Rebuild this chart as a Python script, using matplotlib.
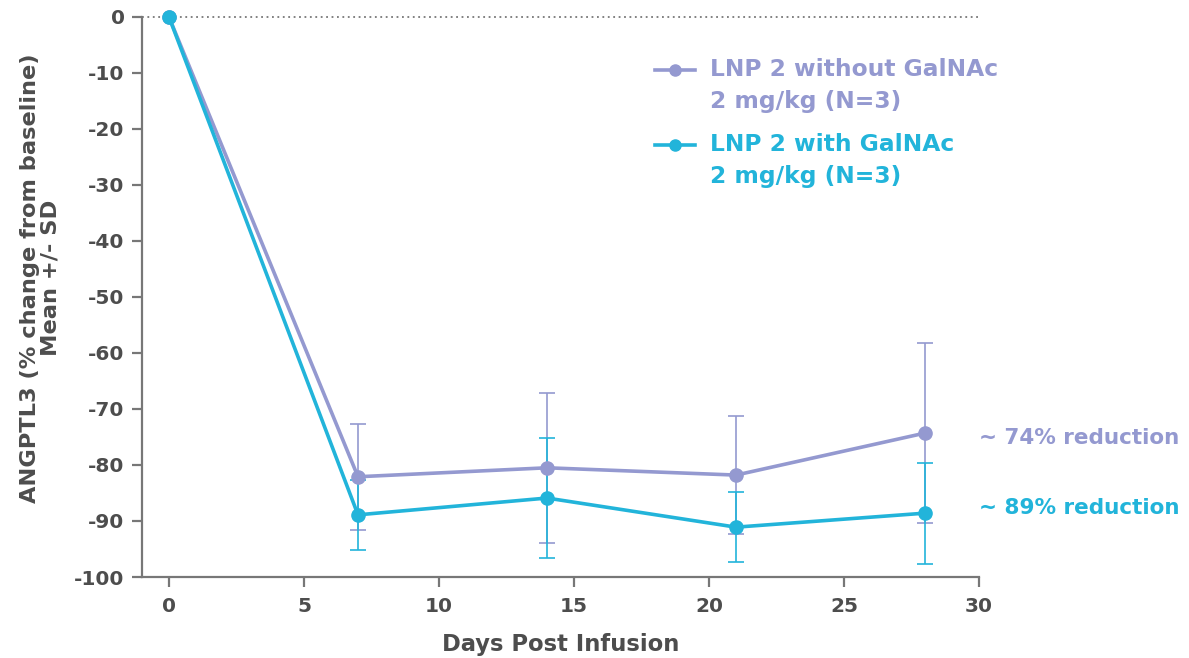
import matplotlib
matplotlib.use('Agg')
import matplotlib.pyplot as plt
from matplotlib.lines import Line2D
import numpy as np

plt.rcParams['font.family'] = ['DejaVu Sans']
plt.rcParams['font.weight'] = 'bold'
plt.rcParams['axes.unicode_minus'] = False

# data
days = [0, 7, 14, 21, 28]
without_mean = [0, -82.1, -80.5, -81.8, -74.3]
without_sd = [0, 9.5, 13.4, 10.6, 16.1]
with_mean = [0, -88.9, -85.9, -91.1, -88.6]
with_sd = [0, 6.3, 10.7, 6.3, 9.0]

label_without = 'LNP 2 without GalNAc\n2 mg/kg (N=3)'
label_with = 'LNP 2 with GalNAc\n2 mg/kg (N=3)'
note_without = '~ 74% reduction'
note_with = '~ 89% reduction'

purple = '#9499d0'
cyan = '#22b4da'
grey = '#4d4d4d'

fig = plt.figure(figsize=(11.89, 6.58), dpi=100)
ax = fig.add_axes([0.1194, 0.1231, 0.7040, 0.8511])

# error bars (no cap at day 0)
ax.errorbar(days[1:], without_mean[1:], yerr=without_sd[1:], fmt='none',
            ecolor=purple, elinewidth=1.2, capsize=6, capthick=1.2, zorder=2, clip_on=False)
ax.errorbar(days[1:], with_mean[1:], yerr=with_sd[1:], fmt='none',
            ecolor=cyan, elinewidth=1.2, capsize=6, capthick=1.2, zorder=2, clip_on=False)

ax.plot(days, without_mean, '-o', color=purple, lw=2.6, ms=9.5, zorder=3, clip_on=False)
ax.plot(days, with_mean, '-o', color=cyan, lw=2.6, ms=9.5, zorder=4, clip_on=False)

# dotted baseline
ax.axhline(0, color='#777777', lw=1.3, ls=(0, (1, 2)), zorder=1, clip_on=False)

ax.set_xlim(-1, 30)
ax.set_ylim(-100, 0)
ax.set_xticks([0, 5, 10, 15, 20, 25, 30])
ax.set_yticks(range(-100, 1, 10))

for s in ['top', 'right']:
    ax.spines[s].set_visible(False)
for s in ['left', 'bottom']:
    ax.spines[s].set_color('#777777')
    ax.spines[s].set_linewidth(1.6)
ax.tick_params(axis='both', colors='#777777', labelcolor=grey, labelsize=14.5,
               length=7.5, width=1.6)
ax.tick_params(axis='x', pad=7)
ax.tick_params(axis='y', pad=5)
for t in ax.get_xticklabels() + ax.get_yticklabels():
    t.set_fontweight('bold')

ax.set_xlabel('Days Post Infusion', fontsize=16.3, fontweight='bold', color=grey, labelpad=12)
ax.set_ylabel('ANGPTL3 (% change from baseline)\nMean +/- SD', fontsize=16.2,
              fontweight='bold', color=grey, labelpad=10, linespacing=1.0)
ax.yaxis.label.set_y(0.534)

handles = [Line2D([], [], color=purple, marker='o', lw=2.6, ms=8),
           Line2D([], [], color=cyan, marker='o', lw=2.6, ms=8)]
leg = ax.legend(handles, [label_without, label_with], loc='upper left',
                bbox_to_anchor=(0.602, 0.944), frameon=False, fontsize=16.8,
                handlelength=1.7, handletextpad=0.64, labelspacing=0.85, borderaxespad=0)
for txt, c in zip(leg.get_texts(), [purple, cyan]):
    txt.set_color(c)
    txt.set_fontweight('bold')
    txt.set_linespacing(1.5)
# put the legend marks level with the first text line
for h in leg.legend_handles:
    h.set_ydata(np.asarray(h.get_ydata()) + 11.5)

ax.text(30.0, without_mean[-1] - 0.9, note_without, color=purple, fontsize=15.5,
        fontweight='bold', va='center', ha='left', clip_on=False)
ax.text(30.0, with_mean[-1] + 0.9, note_with, color=cyan, fontsize=15.5,
        fontweight='bold', va='center', ha='left', clip_on=False)

fig.savefig('out.png', dpi=100)
